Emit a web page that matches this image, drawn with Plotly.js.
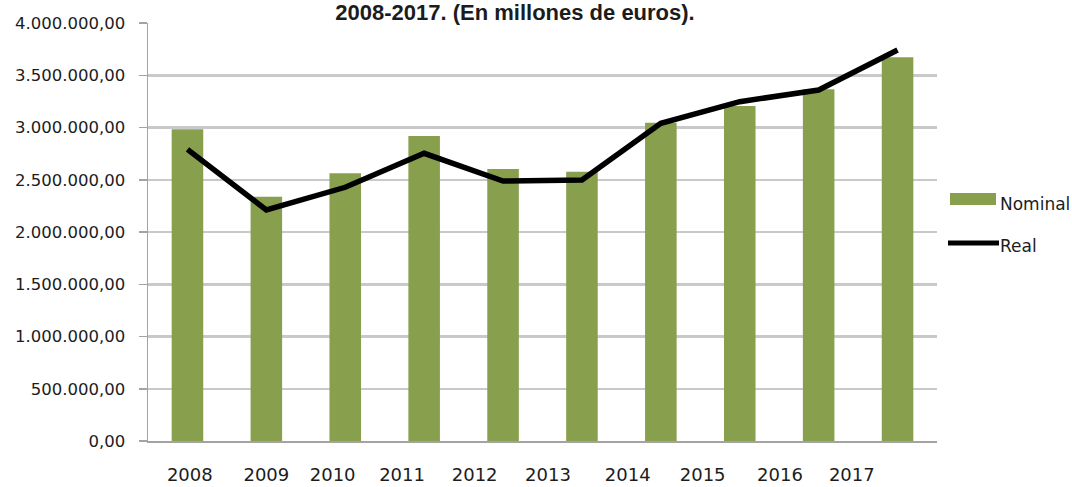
<!DOCTYPE html>
<html>
<head>
<meta charset="utf-8">
<script src="https://cdn.plot.ly/plotly-3.0.1.min.js"></script>
<style>html,body{margin:0;padding:0;background:#fff;}</style>
</head>
<body>
<div id="chart" style="width:1072px;height:487px;"></div>
<script>
// Data (euros)
const years = ["2008","2009","2010","2011","2012","2013","2014","2015","2016","2017"];
const nominal = [2983000, 2338000, 2562000, 2919000, 2603000, 2577000, 3046000, 3206000, 3365000, 3672000];
const real = [2791000, 2211000, 2428000, 2753000, 2488000, 2498000, 3040000, 3247000, 3359000, 3742000];
const yTicks = [0, 500000, 1000000, 1500000, 2000000, 2500000, 3000000, 3500000, 4000000];
const titleText = "2008-2017. (En millones de euros).";

// Layout geometry (pixels of the 1072x487 page)
const W = 1072, H = 487;
const L = 148, R = 937, T = 23, B = 441;
const px = v => (v - L) / (R - L);
const py = v => (B - v) / (B - T);
// the year labels in the reference sit slightly left of their bars
const labelShift = [0.03, 0.0, -0.16, -0.28, -0.36, -0.43, -0.42, -0.47, -0.49, -0.58];
const labelPos = years.map((_, i) => i + labelShift[i]);

const green = "#88a04e";
const txt = "#1c1c1c";

const traces = [
  {type: "bar", name: "Nominal", x: years, y: nominal, marker: {color: green}, showlegend: false, hoverinfo: "x+y"},
  {type: "scatter", mode: "lines", name: "Real", x: years, y: real, line: {color: "#000", width: 5.5}, showlegend: false}
];

const layout = {
  width: W, height: H,
  margin: {l: L, r: W - R, t: T, b: H - B, pad: 0},
  paper_bgcolor: "#fff", plot_bgcolor: "#fff",
  separators: ",.",
  bargap: 0.6,
  font: {family: "DejaVu Sans, Liberation Sans, Arial, sans-serif", color: txt},
  title: {
    text: "<b>" + titleText + "</b>",
    font: {family: "Liberation Sans, Arial, sans-serif", size: 22, color: txt},
    xref: "container", x: 515 / W, xanchor: "center",
    yref: "paper", y: 1, yanchor: "bottom", pad: {b: 3}
  },
  xaxis: {
    type: "category", range: [-0.5, 9.5], showticklabels: false,
    showline: true, linecolor: "#a3a3a3", linewidth: 1.5, ticks: "", showgrid: false, zeroline: false, fixedrange: true
  },
  xaxis2: {
    overlaying: "x", anchor: "y", side: "bottom", range: [-0.5, 9.5],
    tickmode: "array", tickvals: labelPos, ticktext: years, ticks: "",
    showgrid: false, zeroline: false, showline: false,
    ticklabelstandoff: 21,
    tickfont: {family: "DejaVu Sans, Liberation Sans, Arial, sans-serif", size: 18, color: txt}
  },
  yaxis: {
    range: [0, 4000000], tickmode: "array", tickvals: yTicks, tickformat: ",.2f",
    showline: true, linecolor: "#a3a3a3", linewidth: 1.5,
    ticks: "outside", ticklen: 8, tickwidth: 1.5, tickcolor: "#a3a3a3",
    showgrid: true, gridcolor: "#c9c9c9", gridwidth: 2.5, zeroline: false,
    ticklabelstandoff: 10,
    tickfont: {family: "DejaVu Sans, Liberation Sans, Arial, sans-serif", size: 16.5, color: txt}
  },
  shapes: [
    {type: "rect", xref: "paper", yref: "paper", x0: px(950), x1: px(996), y0: py(205), y1: py(193), fillcolor: green, line: {width: 0}},
    {type: "line", xref: "paper", yref: "paper", x0: px(948), x1: px(999), y0: py(243), y1: py(243), line: {color: "#000", width: 5}}
  ],
  annotations: [
    {xref: "paper", yref: "paper", x: px(998), y: py(204), xanchor: "left", yanchor: "middle", showarrow: false, text: "Nominal",
     font: {family: "DejaVu Sans, Liberation Sans, Arial, sans-serif", size: 17, color: txt}},
    {xref: "paper", yref: "paper", x: px(998), y: py(246), xanchor: "left", yanchor: "middle", showarrow: false, text: "Real",
     font: {family: "DejaVu Sans, Liberation Sans, Arial, sans-serif", size: 17, color: txt}}
  ]
};

// invisible helper trace so the overlaid label axis (xaxis2) is drawn
traces.push({type: "scatter", mode: "markers", x: [labelPos[0]], y: [0], xaxis: "x2", yaxis: "y", marker: {opacity: 0}, hoverinfo: "skip", showlegend: false});

Plotly.newPlot("chart", traces, layout, {staticPlot: true, displayModeBar: false});
</script>
</body>
</html>
